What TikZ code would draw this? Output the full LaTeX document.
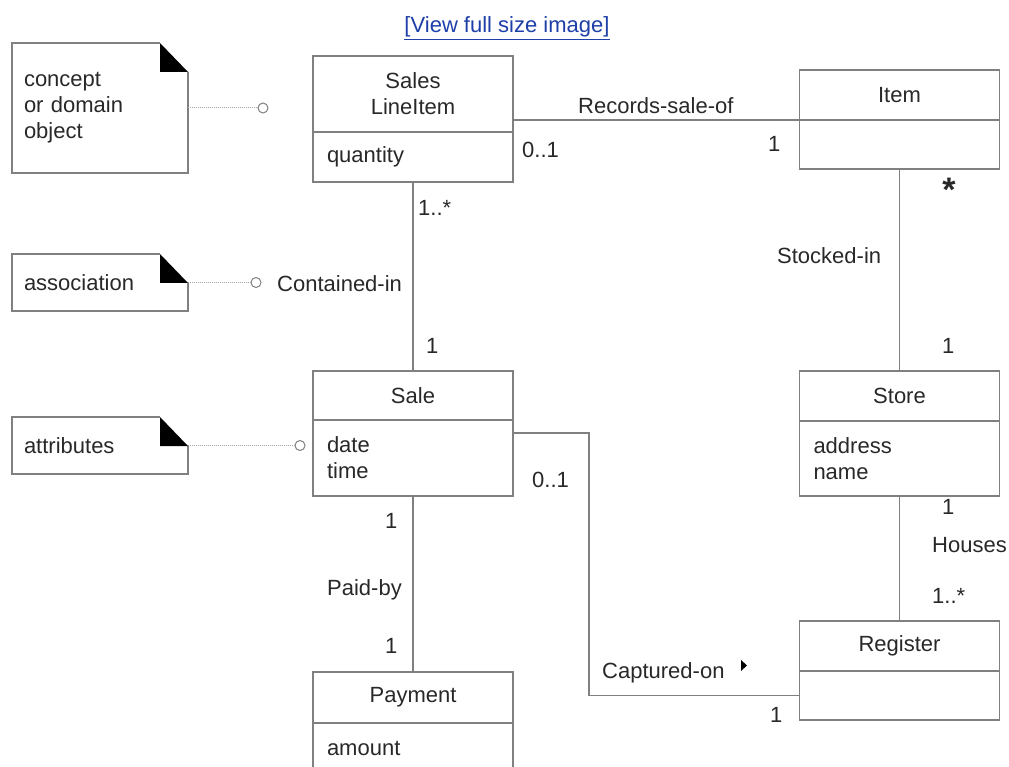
\documentclass[tikz,border=0pt]{standalone}
\usepackage{fontspec}
\setmainfont{Liberation Sans}
\usetikzlibrary{positioning}

\definecolor{umlline}{RGB}{128,128,128}
\definecolor{umltext}{RGB}{40,40,40}
\definecolor{linkblue}{RGB}{30,62,168}

\tikzset{
  clshead/.style={draw=umlline, line width=1.2pt, outer sep=0pt, minimum width=200pt, align=center, inner sep=0pt, text=umltext},
  clsbody/.style={draw=umlline, line width=1.2pt, outer sep=0pt, minimum width=200pt, text width=172pt, align=left, inner xsep=14pt, inner ysep=0pt, text=umltext},
  notebox/.style={outer sep=0pt, minimum width=176pt, text width=152pt, align=left, inner xsep=12pt, inner ysep=0pt, text=umltext},
  notefrm/.style={draw=umlline, line width=1.2pt},
  notelink/.style={draw=umlline!70, line width=1pt, dash pattern={on 1pt off 1pt}},
  pindot/.style={circle, draw=umlline, line width=1pt, fill=white, minimum size=10pt, inner sep=0pt},
  assoc/.style={draw=umlline, line width=1.2pt},
  lbl/.style={inner sep=0pt, anchor=base west, text=umltext}
}

% note with a folded corner
\newcommand{\dogear}[1]{%
  \draw[notefrm] ([xshift=-28pt]#1.north east) -- (#1.north west) -- (#1.south west)
    -- (#1.south east) -- ([yshift=-29pt]#1.north east);
  \fill[black] ([xshift=-28pt]#1.north east) -- ([xshift=-28pt,yshift=-29pt]#1.north east)
    -- ([yshift=-29pt]#1.north east) -- cycle;
}

\begin{document}
\begin{tikzpicture}[x=1pt, y=-1pt, every node/.style={font=\fontsize{22}{26}\selectfont}]
\useasboundingbox (0,0) rectangle (1009,767);

\node[text=linkblue, inner sep=0pt, anchor=base] (viewlink) at (507,33) {\underline{[View full size image]}};

% classes
\node[clshead, minimum height=76pt] (slih) at (413,94) {Sales\\LineItem};
\node[clsbody, minimum height=50pt, below=0pt of slih] (slib) {quantity};
\node[clshead, minimum height=50pt] (itemh) at (899.5,95) {Item};
\node[clsbody, minimum height=49pt, below=0pt of itemh] (itemb) {};
\node[clshead, minimum height=49pt] (saleh) at (413,395.5) {Sale};
\node[clsbody, minimum height=76pt, below=0pt of saleh] (saleb) {date\\time};
\node[clshead, minimum height=50pt] (storeh) at (899.5,396) {Store};
\node[clsbody, minimum height=75pt, below=0pt of storeh] (storeb) {address\\name};
\node[clshead, minimum height=50pt] (regh) at (899.5,646) {Register};
\node[clsbody, minimum height=49pt, below=0pt of regh] (regb) {};
\node[clshead, minimum height=51pt] (payh) at (413,697.5) {Payment};
\node[clsbody, minimum height=50pt, below=0pt of payh] (payb) {amount};

% notes
\node[notebox, minimum height=130pt] (cnote) at (100,108) {concept\\or domain\\object};
\node[notebox, minimum height=57pt] (anote) at (100,282.5) {association};
\node[notebox, minimum height=57pt] (tnote) at (100,445.5) {attributes};
\dogear{cnote}
\dogear{anote}
\dogear{tnote}
\node[pindot] (cdot) at (263,108) {};
\node[pindot] (adot) at (256,282.5) {};
\node[pindot] (tdot) at (300,445.5) {};
\draw[notelink] (cnote.east) -- (cdot);
\draw[notelink] (anote.east) -- (adot);
\draw[notelink] (tnote.east) -- (tdot);

% associations
\draw[assoc] (itemh.south west) -- (itemh.south west -| slih.east);
\draw[assoc] (slib.south) -- (saleh.north);
\draw[assoc] (itemb.south) -- (storeh.north);
\draw[assoc] (storeb.south) -- (regh.north);
\draw[assoc] (saleb.south) -- (payh.north);
\coordinate (capbend) at (589,433);
\draw[assoc] ([yshift=-13pt]saleb.north east) -- (capbend) |- (regb.west);

% association names and multiplicities
\node[lbl] (recl) at (578,114) {Records-sale-of};
\node[lbl] (recm1) at (522,158) {0..1};
\node[lbl] (recm2) at (768,152) {1};
\node[inner sep=0pt, text=umltext, font=\fontsize{34}{34}\bfseries] (stkm1) at (949,190) {*};
\node[lbl] (stkl) at (777,264) {Stocked-in};
\node[lbl] (stkm2) at (942,353) {1};
\node[lbl] (conm1) at (418,216) {1..*};
\node[lbl] (conl) at (277,291) {Contained-in};
\node[lbl] (conm2) at (426,353) {1};
\node[lbl] (capm1) at (532,487) {0..1};
\node[lbl] (houm1) at (942,514) {1};
\node[lbl] (houl) at (932,552) {Houses};
\node[lbl] (houm2) at (932,603) {1..*};
\node[lbl] (capl) at (602,678) {Captured-on};
\node[lbl] (capm2) at (770,722) {1};
\node[lbl] (paym1) at (385,528) {1};
\node[lbl] (payl) at (327,595) {Paid-by};
\node[lbl] (paym2) at (385,653) {1};
\fill[black] (741,660) -- (747,665.5) -- (741,671) -- cycle;
\end{tikzpicture}
\end{document}
